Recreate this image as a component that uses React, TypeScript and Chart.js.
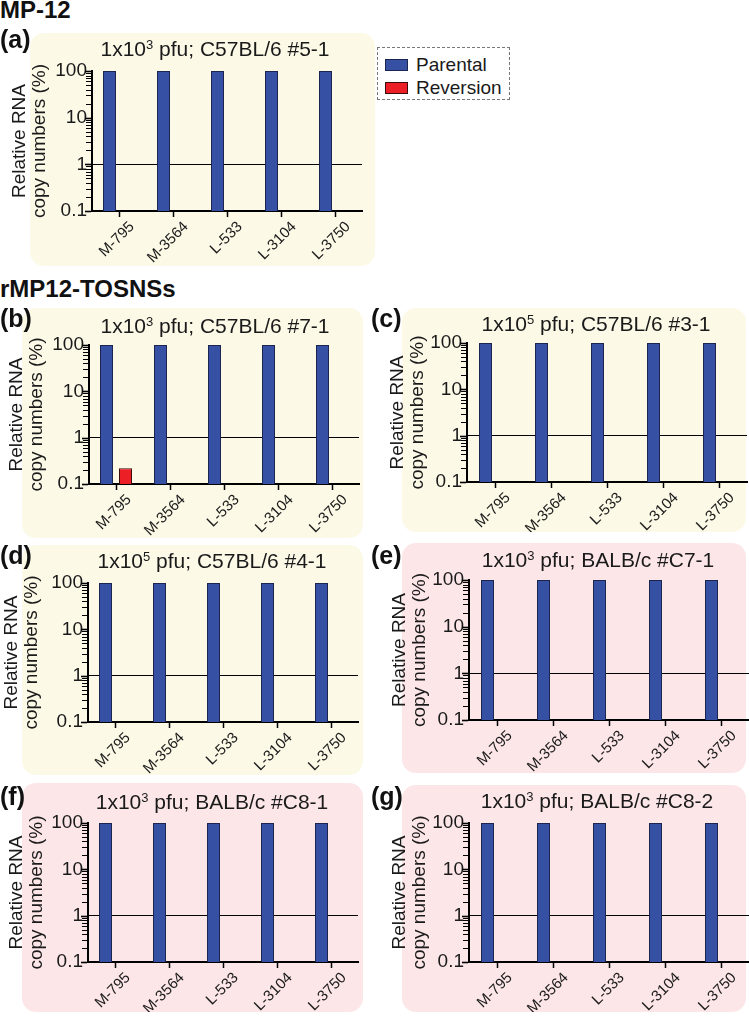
import React, { useEffect, useRef } from 'react';
import { Chart, registerables } from 'chart.js';
Chart.register(...registerables);

const FONT = '"Liberation Sans", Arial, Helvetica, sans-serif';

// ---------------- data ----------------
const categories = ['M-795', 'M-3564', 'L-533', 'L-3104', 'L-3750'];
const seriesNames = ['Parental', 'Reversion'];

const parentalA = [100, 100, 100, 100, 100];
const reversionA = [null, null, null, null, null];
const parentalB = [100, 100, 100, 100, 100];
const reversionB = [0.22, null, null, null, null];
const parentalC = [100, 100, 100, 100, 100];
const reversionC = [null, null, null, null, null];
const parentalD = [100, 100, 100, 100, 100];
const reversionD = [null, null, null, null, null];
const parentalE = [100, 100, 100, 100, 100];
const reversionE = [null, null, null, null, null];
const parentalF = [100, 100, 100, 100, 100];
const reversionF = [null, null, null, null, null];
const parentalG = [100, 100, 100, 100, 100];
const reversionG = [null, null, null, null, null];

const yTickValues = [0.1, 1, 10, 100];
const yTickLabels = ['0.1', '1', '10', '100'];
const yMinorTickValues = [
  0.2, 0.3, 0.4, 0.5, 0.6, 0.7, 0.8, 0.9,
  2, 3, 4, 5, 6, 7, 8, 9,
  20, 30, 40, 50, 60, 70, 80, 90,
];
const yAxisTitle = ['Relative RNA', 'copy numbers (%)'];

const panelLetters = ['(a)', '(b)', '(c)', '(d)', '(e)', '(f)', '(g)'];
const panelDoses = ['1x10', '1x10', '1x10', '1x10', '1x10', '1x10', '1x10'];
const panelExponents = ['3', '3', '5', '5', '3', '3', '3'];
const panelRest = [
  ' pfu; C57BL/6 #5-1',
  ' pfu; C57BL/6 #7-1',
  ' pfu; C57BL/6 #3-1',
  ' pfu; C57BL/6 #4-1',
  ' pfu; BALB/c #C7-1',
  ' pfu; BALB/c #C8-1',
  ' pfu; BALB/c #C8-2',
];
const sectionTitles = ['MP-12', 'rMP12-TOSNSs'];

const parentalSeries = [parentalA, parentalB, parentalC, parentalD, parentalE, parentalF, parentalG];
const reversionSeries = [reversionA, reversionB, reversionC, reversionD, reversionE, reversionF, reversionG];

// ---------------- styles / layout ----------------
const CREAM = '#fcf9e7';
const PINK = '#fce6e8';
const BLUE = '#3651a3';
const BLUE_EDGE = '#1c2550';
const RED = '#ec1f27';
const RED_EDGE = '#3a0c0c';
const EXTRA_BOTTOM = 14;
const BAR_SLOT = 19; // px per bar slot
const BAR_W = 13; // px bar width

type Layout = {
  canvas: [number, number, number, number]; // left, top, right, bottom
  plot: [number, number, number, number]; // axisX, top, bottom, right
  yTitleX: number;
  bg: [number, number, number, number];
  bgColor: string;
  labelPos: [number, number];
  titleCx: number;
  titleBase: number;
};

const layouts: Layout[] = [
  { canvas: [0, 33, 375, 266], plot: [92, 71, 211, 362], yTitleX: 20, bg: [30, 33, 375, 266], bgColor: CREAM, labelPos: [0, 27], titleCx: 215, titleBase: 56 },
  { canvas: [0, 308, 363, 538], plot: [89, 345, 484, 359], yTitleX: 16.5, bg: [22, 308, 363, 538], bgColor: CREAM, labelPos: [0, 306], titleCx: 215, titleBase: 333 },
  { canvas: [370, 308, 749, 532], plot: [467, 343, 482, 747], yTitleX: 398, bg: [402, 308, 746, 532], bgColor: CREAM, labelPos: [371, 306], titleCx: 596, titleBase: 331 },
  { canvas: [0, 545, 363, 775], plot: [88, 583, 722, 358], yTitleX: 12, bg: [22, 545, 363, 775], bgColor: CREAM, labelPos: [0, 543], titleCx: 212, titleBase: 568 },
  { canvas: [370, 543, 749, 773], plot: [469, 580, 720, 749], yTitleX: 400, bg: [402, 543, 746, 773], bgColor: PINK, labelPos: [371, 543], titleCx: 598, titleBase: 567 },
  { canvas: [0, 783, 363, 1012], plot: [88, 823, 962, 358], yTitleX: 16.5, bg: [22, 783, 363, 1012], bgColor: PINK, labelPos: [0, 784], titleCx: 212, titleBase: 809 },
  { canvas: [370, 785, 749, 1012], plot: [469, 823, 962, 749], yTitleX: 400, bg: [402, 785, 746, 1012], bgColor: PINK, labelPos: [371, 784], titleCx: 597, titleBase: 808 },
];

const isMajor = (v: number) => yTickValues.some((t) => Math.abs(t - v) / t < 1e-6);

const yTicksPlugin = {
  id: 'yTicksPlugin',
  afterDraw(chart: any) {
    const s = chart.scales.y;
    const ctx = chart.ctx;
    const x = chart.chartArea.left - 1;
    ctx.save();
    ctx.strokeStyle = '#000';
    const all = [...yTickValues, ...yMinorTickValues];
    all.forEach((v) => {
      const major = isMajor(v);
      const len = major ? 6 : 5;
      ctx.lineWidth = major ? 1.6 : 1;
      const y = Math.round(s.getPixelForValue(v)) + 0.5;
      ctx.beginPath();
      ctx.moveTo(x - len, y);
      ctx.lineTo(x, y);
      ctx.stroke();
    });
    ctx.restore();
  },
};

function PanelChart({ idx }: { idx: number }) {
  const ref = useRef<HTMLCanvasElement | null>(null);
  const L = layouts[idx];
  const [cl, ct, cr, cb] = L.canvas;
  const w = cr - cl;
  const h = cb - ct + EXTRA_BOTTOM;
  useEffect(() => {
    const canvas = ref.current;
    if (!canvas) return;
    const [axisX, top, bottom, right] = L.plot;
    const catW = (right - axisX) / categories.length;
    const catPct = (2 * BAR_SLOT) / catW;
    const barPct = BAR_W / BAR_SLOT;
    const chart = new Chart(canvas, {
      type: 'bar',
      data: {
        labels: categories,
        datasets: [
          {
            label: seriesNames[0],
            data: parentalSeries[idx],
            backgroundColor: BLUE,
            borderColor: BLUE_EDGE,
            borderWidth: 1,
            inflateAmount: 0,
            categoryPercentage: catPct,
            barPercentage: barPct,
          },
          {
            label: seriesNames[1],
            data: reversionSeries[idx] as any,
            backgroundColor: RED,
            borderColor: RED_EDGE,
            borderWidth: 1,
            inflateAmount: 0,
            categoryPercentage: catPct,
            barPercentage: barPct,
          },
        ],
      },
      options: {
        responsive: false,
        animation: false,
        devicePixelRatio: 1,
        layout: { padding: { left: 0, top: top - ct, right: cr - right, bottom: EXTRA_BOTTOM } },
        plugins: {
          legend: { display: false },
          tooltip: { enabled: false },
          title: { display: false },
        },
        scales: {
          x: {
            type: 'category',
            offset: true,
            grid: {
              display: true,
              drawOnChartArea: false,
              drawTicks: true,
              tickLength: 6,
              tickColor: '#000',
              tickWidth: 1.5,
              offset: false,
            },
            border: { display: true, color: '#000', width: 2 },
            ticks: {
              minRotation: 45,
              maxRotation: 45,
              autoSkip: false,
              padding: 1,
              labelOffset: 13,
              color: '#1a1a1a',
              font: { family: FONT, size: 15 },
            },
            afterFit: (s: any) => {
              s.height = cb - bottom;
            },
          },
          y: {
            type: 'logarithmic',
            min: 0.1,
            max: 100,
            afterBuildTicks: (s: any) => {
              s.ticks = yTickValues.map((v) => ({ value: v, major: true }));
            },
            grid: {
              drawTicks: false,
              lineWidth: 1,
              color: (c: any) => (c.tick && Math.abs(c.tick.value - 1) < 1e-9 ? '#000' : 'rgba(0,0,0,0)'),
            },
            border: { display: true, color: '#000', width: 2 },
            ticks: {
              autoSkip: false,
              padding: 5,
              color: '#1a1a1a',
              font: { family: FONT, size: 19 },
              callback: (v: any) => {
                const i = yTickValues.findIndex((t) => Math.abs(t - Number(v)) / t < 1e-6);
                return i >= 0 ? yTickLabels[i] : '';
              },
            },
            title: {
              display: true,
              text: yAxisTitle,
              color: '#1a1a1a',
              font: { family: FONT, size: 19, lineHeight: 1.05 },
              padding: { top: L.yTitleX - cl - 10, bottom: 0 },
            },
            afterFit: (s: any) => {
              s.width = axisX - cl;
            },
          },
        },
      } as any,
      plugins: [yTicksPlugin],
    });
    return () => chart.destroy();
  }, [idx]);
  return (
    <canvas
      ref={ref}
      width={w}
      height={h}
      style={{ position: 'absolute', left: cl, top: ct, width: w, height: h, display: 'block' }}
    />
  );
}

function Panel({ idx }: { idx: number }) {
  const L = layouts[idx];
  const [bl, bt, br, bb] = L.bg;
  return (
    <>
      <div
        style={{
          position: 'absolute',
          left: bl,
          top: bt,
          width: br - bl,
          height: bb - bt,
          background: L.bgColor,
          borderRadius: 14,
        }}
      />
      <PanelChart idx={idx} />
      <div
        style={{
          position: 'absolute',
          left: L.labelPos[0],
          top: L.labelPos[1],
          fontFamily: FONT,
          fontWeight: 700,
          fontSize: 25,
          lineHeight: '24px',
          color: '#111',
          whiteSpace: 'nowrap',
        }}
      >
        {panelLetters[idx]}
      </div>
      <div
        style={{
          position: 'absolute',
          left: L.titleCx - 170,
          width: 340,
          top: L.titleBase - 18,
          height: 21,
          textAlign: 'center',
          fontFamily: FONT,
          fontSize: 21,
          lineHeight: '21px',
          color: '#1a1a1a',
          whiteSpace: 'nowrap',
        }}
      >
        {panelDoses[idx]}
        <span style={{ fontSize: 13, position: 'relative', top: -7 }}>{panelExponents[idx]}</span>
        {panelRest[idx]}
      </div>
    </>
  );
}

function Legend() {
  const item = (name: string, color: string, edge: string, y: number) => (
    <div style={{ position: 'absolute', left: 0, top: y, height: 20, width: 130 }}>
      <div
        style={{
          position: 'absolute',
          left: 7,
          top: 4,
          width: 21,
          height: 10,
          background: color,
          border: `1px solid ${edge}`,
        }}
      />
      <div
        style={{
          position: 'absolute',
          left: 38,
          top: 0,
          fontFamily: FONT,
          fontSize: 19,
          lineHeight: '19px',
          color: '#1a1a1a',
          whiteSpace: 'nowrap',
        }}
      >
        {name}
      </div>
    </div>
  );
  return (
    <div
      style={{
        position: 'absolute',
        left: 377,
        top: 47,
        width: 131,
        height: 51,
        border: '1px dashed #777',
        background: '#fff',
      }}
    >
      {item(seriesNames[0], BLUE, BLUE_EDGE, 7)}
      {item(seriesNames[1], RED, RED_EDGE, 30)}
    </div>
  );
}

export default function App() {
  return (
    <div
      style={{
        position: 'absolute',
        left: 0,
        top: 0,
        width: 749,
        height: 1020,
        background: '#fff',
        overflow: 'hidden',
      }}
    >
      <div
        style={{
          position: 'absolute',
          left: 0,
          top: -2,
          fontFamily: FONT,
          fontWeight: 700,
          fontSize: 24,
          lineHeight: '24px',
          color: '#111',
          whiteSpace: 'nowrap',
        }}
      >
        {sectionTitles[0]}
      </div>
      <div
        style={{
          position: 'absolute',
          left: 0,
          top: 277,
          fontFamily: FONT,
          fontWeight: 700,
          fontSize: 24,
          lineHeight: '24px',
          color: '#111',
          whiteSpace: 'nowrap',
        }}
      >
        {sectionTitles[1]}
      </div>
      {layouts.map((_, i) => (
        <Panel key={i} idx={i} />
      ))}
      <Legend />
    </div>
  );
}
